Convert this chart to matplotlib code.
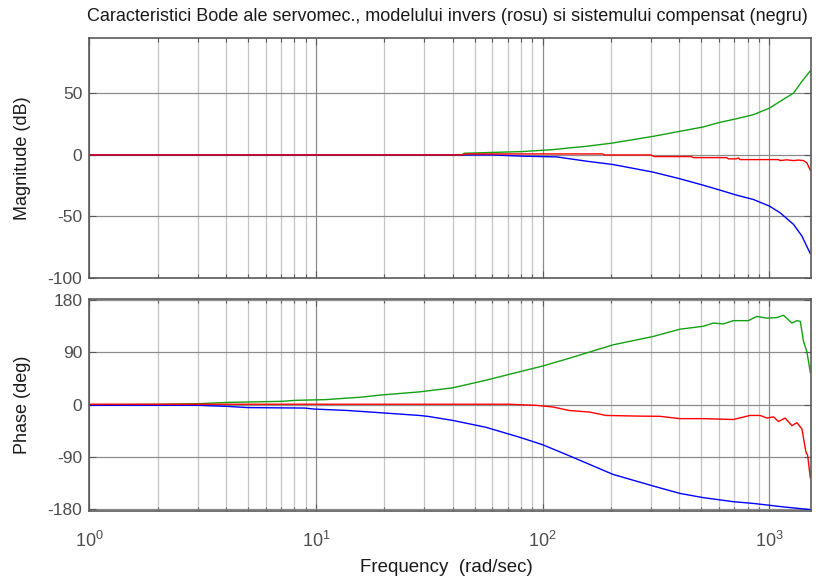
import numpy as np
import matplotlib
matplotlib.use("Agg")
import matplotlib.pyplot as plt
from matplotlib.ticker import LogLocator, FixedLocator, NullFormatter

plt.rcParams["font.family"] = ["Liberation Sans", "DejaVu Sans"]
plt.rcParams["mathtext.fontset"] = "custom"
plt.rcParams["mathtext.rm"] = "Liberation Sans"
plt.rcParams["mathtext.it"] = "Liberation Sans"
plt.rcParams["axes.unicode_minus"] = False

# Values (frequency in rad/sec)
# Magnitude (dB)
w_mag_g = [1, 44, 45, 81, 111, 131, 156, 204, 307, 403, 510, 605, 716, 849, 1000, 1114, 1276, 1390, 1514]
mag_g = [0, 0, 1.35, 2.7, 4.3, 5.7, 7, 9.7, 15.1, 19.2, 22.7, 26.5, 29.4, 32.7, 38, 43.5, 50.2, 59.7, 68.3]

w_mag_b = [1, 60, 84, 115, 156, 204, 307, 403, 510, 605, 716, 849, 1000, 1114, 1276, 1390, 1514]
mag_b = [0, 0, -1.1, -1.6, -5.1, -7.8, -14, -19.4, -24.6, -28.6, -32.7, -36.2, -41.6, -47, -56.4, -65.9, -80.2]

w_mag_r = [1, 44, 46, 184, 187, 300, 310, 453, 461, 647, 659, 716, 729, 741, 1096, 1114,
           1193, 1276, 1343, 1413, 1462, 1514]
mag_r = [0, 0, 0.8, 0.8, 0, 0, -1.35, -1.35, -2.2, -2.2, -3.2, -3.2, -2.4, -3.8, -3.8, -4.6,
         -4.0, -4.6, -4.2, -4.6, -6.5, -12.4]

# Phase (deg)
w_ph_g = [1, 2, 3, 4.1, 7.1, 8.1, 11, 15.8, 19.5, 28.5, 40, 56, 79, 100, 131, 204, 307, 403,
          510, 565, 625, 693, 807, 879, 973, 1077, 1153, 1256, 1321, 1368, 1413, 1462, 1514]
ph_g = [0, 0.5, 1.7, 4, 5.8, 7.5, 8.7, 13, 16.8, 22, 29, 42, 56.7, 66.6, 80, 103, 117.5, 130,
        135, 140.6, 139, 144.7, 144.7, 152, 149, 150, 154, 140.6, 144.7, 143.5, 108.8, 91.5, 55.6]

w_ph_b = [1, 3, 4.1, 5, 8.9, 9.8, 13.8, 19.5, 28.5, 31, 40, 56, 79, 100, 131, 204, 307, 403,
          510, 693, 849, 1153, 1514]
ph_b = [-1, -1, -3, -5, -5.8, -7.5, -10, -14, -18.5, -20, -27, -38.8, -56, -69, -88, -120, -140,
        -152.8, -160, -167, -170, -176, -180.6]

w_ph_r = [1, 71, 79, 93, 111, 131, 161, 190, 268, 328, 403, 510, 693, 821, 910, 973, 1042,
          1096, 1173, 1256, 1321, 1390, 1449, 1473, 1514]
ph_r = [0.8, 0.8, 0, -1, -4, -10, -12.7, -18.5, -19.7, -20, -24, -24, -25.5, -18.5, -18.5, -23,
        -21, -29, -23, -36, -31, -41.7, -82, -87, -125.6]

XLIM = (1, 1520)
GREEN = "#13a013"
GRID_MAJ = "#8c8c8c"
GRID_MIN = "#c4c4c4"
EDGE = "#5a5a5a"
TICK_TXT = "#4d4d4d"
TXT = "#1a1a1a"

fig = plt.figure(figsize=(8.16, 5.80), dpi=100)
ax1 = fig.add_axes([0.1095, 0.5207, 0.8840, 0.4138])
ax2 = fig.add_axes([0.1095, 0.1190, 0.8840, 0.3655])


def style_axis(ax, yticks, ylim):
    ax.set_xscale("log")
    ax.set_xlim(*XLIM)
    ax.set_ylim(*ylim)
    ax.set_yticks(yticks)
    ax.xaxis.set_major_locator(FixedLocator([1, 10, 100, 1000]))
    ax.xaxis.set_minor_locator(LogLocator(base=10, subs=np.arange(2, 10)))
    ax.xaxis.set_minor_formatter(NullFormatter())
    ax.set_axisbelow(True)
    ax.grid(True, which="major", axis="x", color=GRID_MAJ, linewidth=0.9)
    ax.grid(True, which="minor", axis="x", color=GRID_MIN, linewidth=0.9)
    ax.grid(True, which="major", axis="y", color=GRID_MAJ, linewidth=0.9)
    ax.tick_params(which="both", direction="in", top=True, right=True,
                   colors=EDGE, labelcolor=TICK_TXT, labelsize=12.5)
    ax.tick_params(which="major", length=5, width=0.8)
    ax.tick_params(which="minor", length=3, width=0.8)
    ax.tick_params(axis="y", pad=5)
    for s in ax.spines.values():
        s.set_color(EDGE)
        s.set_linewidth(1.2)


style_axis(ax1, [-100, -50, 0, 50], (-100, 95))
style_axis(ax2, [-180, -90, 0, 90, 180], (-183, 182))

ax1.plot(w_mag_g, mag_g, color=GREEN, linewidth=1.0)
ax1.plot(w_mag_b, mag_b, color="#0000ff", linewidth=1.0)
ax1.plot(w_mag_r, mag_r, color="#ff0000", linewidth=1.0)
ax1.tick_params(axis="x", labelbottom=False)

ax2.plot(w_ph_g, ph_g, color=GREEN, linewidth=1.0)
ax2.plot(w_ph_b, ph_b, color="#0000ff", linewidth=1.0)
ax2.plot(w_ph_r, ph_r, color="#ff0000", linewidth=1.0)
ax2.set_xticklabels([r"$10^{0}$", r"$10^{1}$", r"$10^{2}$", r"$10^{3}$"], fontsize=13)
ax2.tick_params(axis="x", pad=14)

ax1.set_ylabel("Magnitude (dB)", fontsize=13, color=TXT)
ax2.set_ylabel("Phase (deg)", fontsize=13, color=TXT)
ax1.yaxis.set_label_coords(-0.081, 0.5)
ax2.yaxis.set_label_coords(-0.081, 0.5)
ax2.set_xlabel("Frequency  (rad/sec)", fontsize=13.5, color=TXT)
ax2.xaxis.set_label_coords(0.495, -0.228)
fig.text(0.548, 0.9724,
         "Caracteristici Bode ale servomec., modelului invers (rosu) si sistemului compensat (negru)",
         fontsize=13, color=TXT, ha="center", va="center")

fig.savefig("out.png", dpi=100)
